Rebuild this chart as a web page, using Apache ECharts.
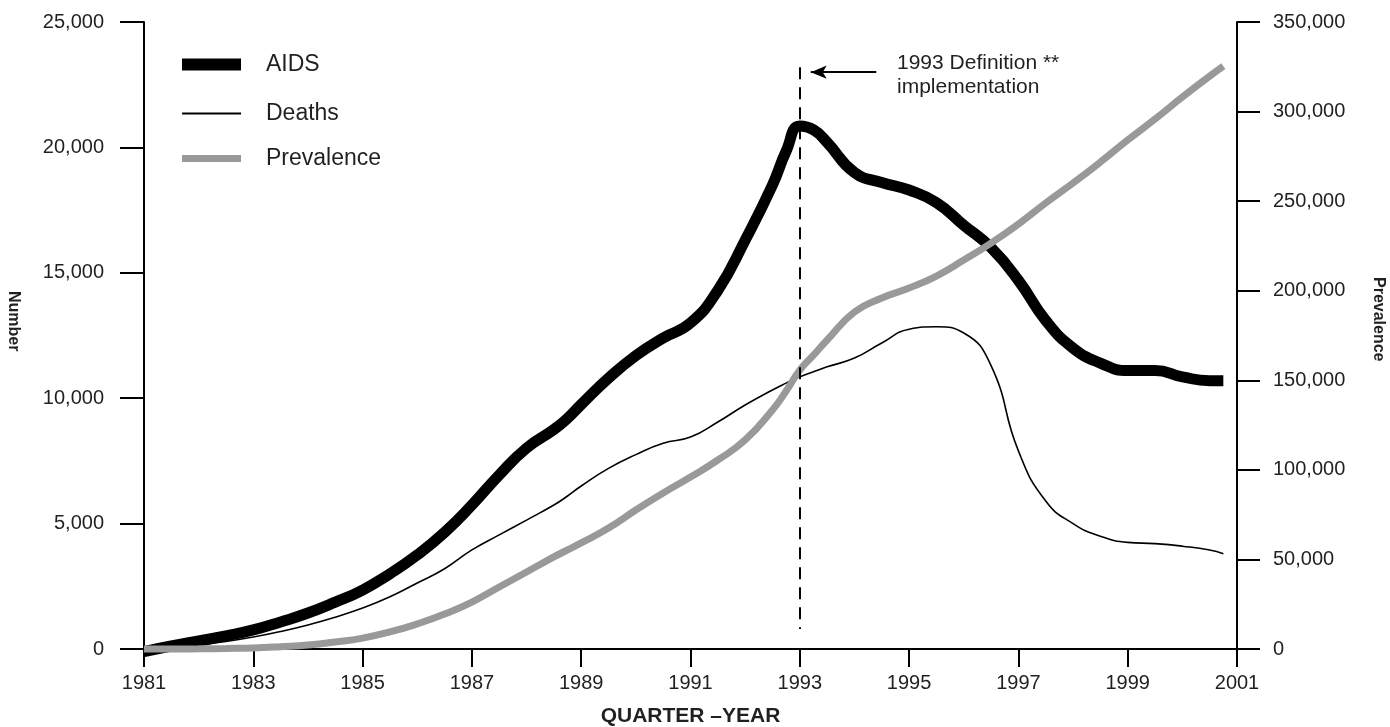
<!DOCTYPE html>
<html>
<head>
<meta charset="utf-8">
<script src="https://cdn.jsdelivr.net/npm/echarts@6.0.0/dist/echarts.min.js"></script>
<style>
html,body{margin:0;padding:0;background:#fff;}
#chart{width:1390px;height:727px;}
</style>
</head>
<body>
<div id="chart"></div>
<script>
// ---- data (half-year points plus a few quarters) ----
const years = [1981,1981.5,1982,1982.5,1983,1983.5,1984,1984.5,1985,1985.5,
  1986,1986.5,1987,1987.5,1988,1988.5,1988.75,1989,1989.5,1990,1990.5,
  1991,1991.5,1992,1992.5,1992.75,1993,1993.25,1993.5,1994,1994.5,1995,1995.5,
  1996,1996.5,1997,1997.5,1998,1998.5,1999,1999.5,2000,2000.5,2000.75];

const aids = [-100,120,320,520,760,1080,1435,1870,2350,3000,
  3750,4650,5740,6940,8010,8750,9200,9750,10800,11700,12400,
  13000,14300,16300,18500,19850,20850,20700,20200,19000,18600,18300,17800,
  16900,16000,14700,13100,12000,11400,11100,11100,10850,10700,10700];

const deaths = [0,60,160,300,480,700,960,1270,1630,2080,
  2630,3200,3950,4550,5140,5740,6100,6500,7200,7750,8200,
  8450,9050,9730,10330,10600,10850,11050,11250,11600,12200,12750,12850,
  12600,11300,7900,5900,5000,4500,4250,4200,4100,3950,3800];

const prevalence = [0,0,100,300,600,1300,2200,3900,6100,9500,
  14000,19500,26200,34600,43000,51400,55300,59200,67500,77600,87100,
  96000,105500,116700,133400,144000,155700,164000,172500,188100,195900,201500,208200,
  217100,226600,237200,249000,260100,271800,284100,295800,308100,319800,325400];

const xTicks = {min: 1981, max: 2001, interval: 2};
const leftTicks = {min: 0, max: 25000, interval: 5000};
const rightTicks = {min: 0, max: 350000, interval: 50000};

const defYear = 1993;
const annotationLines = ['1993 Definition **', 'implementation'];

const pair = arr => years.map((y, i) => [y, arr[i]]);

const FONT = '"Liberation Sans", Arial, Helvetica, sans-serif';
const TXT = '#231f20';
const fmt = v => Number(v).toLocaleString('en-US');

const chart = echarts.init(document.getElementById('chart'), null, {renderer: 'canvas'});

const legendBase = {
  left: 182, orient: 'vertical', icon: 'rect', itemWidth: 59,
  selectedMode: false, padding: 0,
  textStyle: {fontFamily: FONT, fontSize: 23, color: TXT, padding: [0, 0, 0, 20]}
};

chart.setOption({
  animation: false,
  backgroundColor: '#ffffff',
  textStyle: {fontFamily: FONT},
  grid: {left: 144, right: 153, top: 22, bottom: 78, containLabel: false, outerBoundsMode: 'none'},
  legend: [
    Object.assign({}, legendBase, {data: ['AIDS'], top: 53, itemHeight: 12}),
    Object.assign({}, legendBase, {data: ['Deaths'], top: 102, itemHeight: 2}),
    Object.assign({}, legendBase, {data: ['Prevalence'], top: 147, itemHeight: 7})
  ],
  xAxis: {
    type: 'value', min: xTicks.min, max: xTicks.max, interval: xTicks.interval,
    name: 'QUARTER \u2013YEAR', nameLocation: 'middle', nameGap: 57,
    nameTextStyle: {fontFamily: FONT, fontSize: 21, fontWeight: 'bold', color: TXT},
    axisLine: {show: true, onZero: false, lineStyle: {color: '#000', width: 2}},
    axisTick: {show: true, inside: false, length: 18, lineStyle: {color: '#000', width: 2}},
    axisLabel: {margin: 24, fontFamily: FONT, fontSize: 20, color: TXT, formatter: v => String(v)},
    splitLine: {show: false}
  },
  yAxis: [
    {
      type: 'value', position: 'left', min: leftTicks.min, max: leftTicks.max, interval: leftTicks.interval,
      axisLine: {show: true, lineStyle: {color: '#000', width: 2}},
      axisTick: {show: true, inside: false, length: 24, lineStyle: {color: '#000', width: 2}},
      axisLabel: {margin: 40, fontFamily: FONT, fontSize: 20, color: TXT, formatter: fmt},
      splitLine: {show: false}
    },
    {
      type: 'value', position: 'right', min: rightTicks.min, max: rightTicks.max, interval: rightTicks.interval,
      axisLine: {show: true, lineStyle: {color: '#000', width: 2}},
      axisTick: {show: true, inside: false, length: 23, lineStyle: {color: '#000', width: 2}},
      axisLabel: {margin: 36, fontFamily: FONT, fontSize: 20, color: TXT, formatter: fmt},
      splitLine: {show: false}
    }
  ],
  series: [
    {
      name: 'AIDS', type: 'line', yAxisIndex: 0, data: pair(aids),
      smooth: 0.5, showSymbol: false, clip: false,
      color: '#000', lineStyle: {color: '#000', width: 11, cap: 'butt', join: 'round'},
      itemStyle: {color: '#000'},
      markLine: {
        silent: true, animation: false,
        label: {show: false},
        data: [
          [{coord: [defYear, 23200], symbol: 'none'},
           {coord: [defYear, 800], symbol: 'none'}],
        ],
        lineStyle: {color: '#000', width: 2, type: [12, 8]}
      }
    },
    {
      name: 'Deaths', type: 'line', yAxisIndex: 0, data: pair(deaths),
      smooth: 0.5, showSymbol: false, clip: false,
      color: '#000', lineStyle: {color: '#000', width: 1.6},
      itemStyle: {color: '#000'},
      markLine: {
        silent: true, animation: false,
        label: {show: false},
        data: [
          [{coord: [1994.4, 23000], symbol: 'none'},
           {coord: [1993.2, 23000], symbol: 'arrow', symbolSize: [10, 16]}]
        ],
        lineStyle: {color: '#000', width: 2, type: 'solid'}
      }
    },
    {
      name: 'Prevalence', type: 'line', yAxisIndex: 1, data: pair(prevalence),
      smooth: 0.5, showSymbol: false, clip: false,
      color: '#999999', lineStyle: {color: '#999999', width: 7, cap: 'butt'},
      itemStyle: {color: '#999999'}
    }
  ],
  graphic: [
    {
      type: 'text', left: 897, top: 51,
      style: {text: annotationLines.join('\n'), fontFamily: FONT, fontSize: 21, lineHeight: 24, fill: TXT}
    },
    {
      type: 'text', x: 21, y: 291, rotation: -Math.PI / 2,
      style: {text: 'Number', fontFamily: FONT, fontSize: 16, fontWeight: 'bold', fill: TXT}
    },
    {
      type: 'text', x: 1386, y: 277, rotation: -Math.PI / 2,
      style: {text: 'Prevalence', fontFamily: FONT, fontSize: 16, fontWeight: 'bold', fill: TXT}
    }
  ]
});
</script>
</body>
</html>
